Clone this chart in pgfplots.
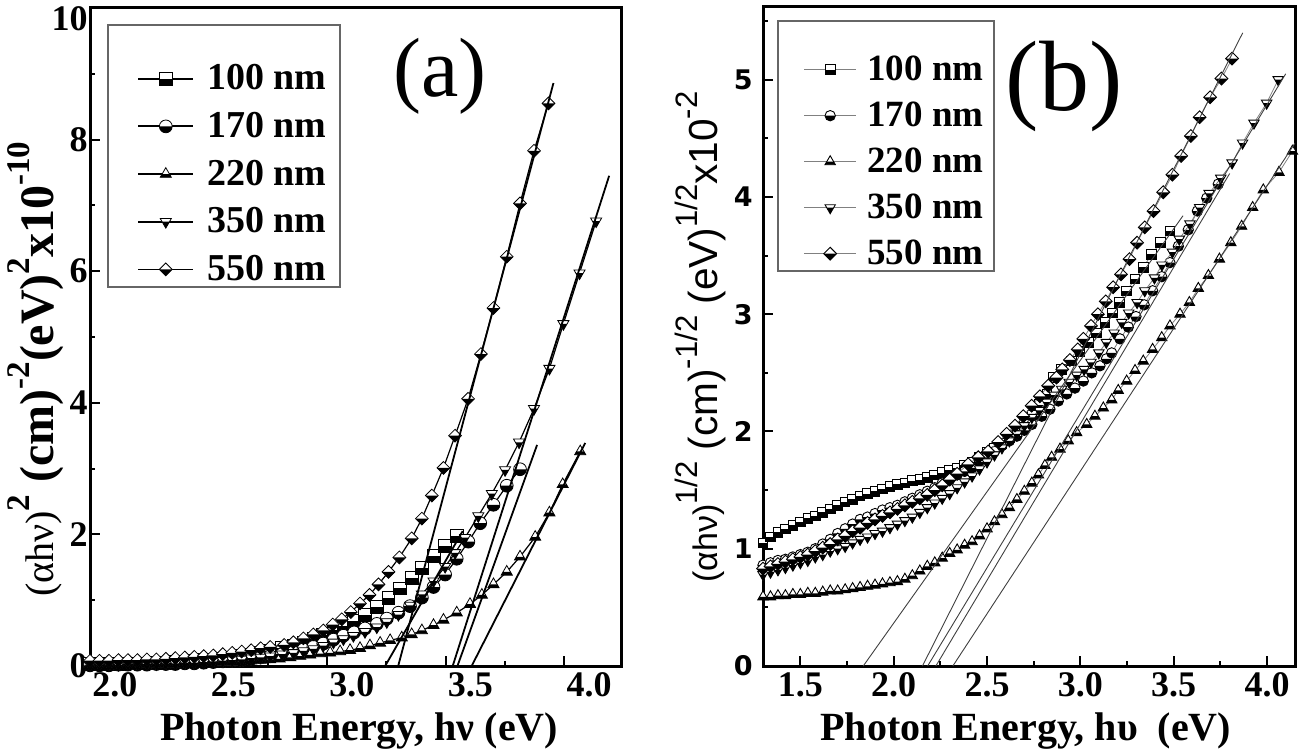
\documentclass[border=0pt]{standalone}
\usepackage{fontspec}
\setmainfont{Liberation Serif}
\newfontfamily\sansf{Liberation Sans}
\newfontfamily\dvsans{DejaVu Sans}
\usepackage{pgfplots}
\pgfplotsset{compat=1.18}

% half-filled marks: white upper half, black lower half
\pgfdeclareplotmark{hsq}{%
  \pgfscope
    \pgfsetfillcolor{white}%
    \pgfpathrectangle{\pgfqpoint{-\pgfplotmarksize}{-\pgfplotmarksize}}{\pgfqpoint{2\pgfplotmarksize}{2\pgfplotmarksize}}%
    \pgfusepath{fill}%
    \pgfsetfillcolor{black}%
    \pgfpathrectangle{\pgfqpoint{-\pgfplotmarksize}{-\pgfplotmarksize}}{\pgfqpoint{2\pgfplotmarksize}{\pgfplotmarksize}}%
    \pgfusepath{fill}%
  \endpgfscope
  \pgfpathrectangle{\pgfqpoint{-\pgfplotmarksize}{-\pgfplotmarksize}}{\pgfqpoint{2\pgfplotmarksize}{2\pgfplotmarksize}}%
  \pgfusepath{stroke}}
\pgfdeclareplotmark{hci}{%
  \pgfscope
    \pgfsetfillcolor{white}%
    \pgfpathcircle{\pgfpointorigin}{\pgfplotmarksize}%
    \pgfusepath{fill}%
    \pgfsetfillcolor{black}%
    \pgfpathmoveto{\pgfqpoint{\pgfplotmarksize}{0pt}}%
    \pgfpatharc{0}{-180}{\pgfplotmarksize}%
    \pgfpathclose
    \pgfusepath{fill}%
  \endpgfscope
  \pgfpathcircle{\pgfpointorigin}{\pgfplotmarksize}%
  \pgfusepath{stroke}}
\pgfdeclareplotmark{htu}{%
  \pgfscope
    \pgfsetfillcolor{white}%
    \pgfpathmoveto{\pgfqpoint{0pt}{\pgfplotmarksize}}%
    \pgfpathlineto{\pgfqpoint{-.866\pgfplotmarksize}{-.5\pgfplotmarksize}}%
    \pgfpathlineto{\pgfqpoint{.866\pgfplotmarksize}{-.5\pgfplotmarksize}}%
    \pgfpathclose\pgfusepath{fill}%
    \pgfsetfillcolor{black}%
    \pgfpathmoveto{\pgfqpoint{-.866\pgfplotmarksize}{-.5\pgfplotmarksize}}%
    \pgfpathlineto{\pgfqpoint{.866\pgfplotmarksize}{-.5\pgfplotmarksize}}%
    \pgfpathlineto{\pgfqpoint{.577\pgfplotmarksize}{0pt}}%
    \pgfpathlineto{\pgfqpoint{-.577\pgfplotmarksize}{0pt}}%
    \pgfpathclose\pgfusepath{fill}%
  \endpgfscope
  \pgfpathmoveto{\pgfqpoint{0pt}{\pgfplotmarksize}}%
  \pgfpathlineto{\pgfqpoint{-.866\pgfplotmarksize}{-.5\pgfplotmarksize}}%
  \pgfpathlineto{\pgfqpoint{.866\pgfplotmarksize}{-.5\pgfplotmarksize}}%
  \pgfpathclose\pgfusepath{stroke}}
\pgfdeclareplotmark{htd}{%
  \pgfscope
    \pgfsetfillcolor{white}%
    \pgfpathmoveto{\pgfqpoint{0pt}{-\pgfplotmarksize}}%
    \pgfpathlineto{\pgfqpoint{-.866\pgfplotmarksize}{.5\pgfplotmarksize}}%
    \pgfpathlineto{\pgfqpoint{.866\pgfplotmarksize}{.5\pgfplotmarksize}}%
    \pgfpathclose\pgfusepath{fill}%
    \pgfsetfillcolor{black}%
    \pgfpathmoveto{\pgfqpoint{0pt}{-\pgfplotmarksize}}%
    \pgfpathlineto{\pgfqpoint{.577\pgfplotmarksize}{0pt}}%
    \pgfpathlineto{\pgfqpoint{-.577\pgfplotmarksize}{0pt}}%
    \pgfpathclose\pgfusepath{fill}%
  \endpgfscope
  \pgfpathmoveto{\pgfqpoint{0pt}{-\pgfplotmarksize}}%
  \pgfpathlineto{\pgfqpoint{-.866\pgfplotmarksize}{.5\pgfplotmarksize}}%
  \pgfpathlineto{\pgfqpoint{.866\pgfplotmarksize}{.5\pgfplotmarksize}}%
  \pgfpathclose\pgfusepath{stroke}}
\pgfdeclareplotmark{hdi}{%
  \pgfscope
    \pgfsetfillcolor{white}%
    \pgfpathmoveto{\pgfqpoint{0pt}{\pgfplotmarksize}}%
    \pgfpathlineto{\pgfqpoint{\pgfplotmarksize}{0pt}}%
    \pgfpathlineto{\pgfqpoint{0pt}{-\pgfplotmarksize}}%
    \pgfpathlineto{\pgfqpoint{-\pgfplotmarksize}{0pt}}%
    \pgfpathclose\pgfusepath{fill}%
    \pgfsetfillcolor{black}%
    \pgfpathmoveto{\pgfqpoint{-\pgfplotmarksize}{0pt}}%
    \pgfpathlineto{\pgfqpoint{\pgfplotmarksize}{0pt}}%
    \pgfpathlineto{\pgfqpoint{0pt}{-\pgfplotmarksize}}%
    \pgfpathclose\pgfusepath{fill}%
  \endpgfscope
  \pgfpathmoveto{\pgfqpoint{0pt}{\pgfplotmarksize}}%
  \pgfpathlineto{\pgfqpoint{\pgfplotmarksize}{0pt}}%
  \pgfpathlineto{\pgfqpoint{0pt}{-\pgfplotmarksize}}%
  \pgfpathlineto{\pgfqpoint{-\pgfplotmarksize}{0pt}}%
  \pgfpathclose\pgfusepath{stroke}}

\newcommand\sups[2][14]{\raisebox{0.5em}{\fontsize{#1}{#1}\selectfont #2}}

\pgfplotsset{
  frame/.style={
    scale only axis, tick pos=left, tick align=inside,
    major tick length=5pt, minor tick length=2.5pt,
    tick style={black, line width=1pt},
    axis line style={line width=1.5pt},
    clip mode=individual},
  sA/.style={black, line width=0.6pt, mark size=3.2pt, mark options={solid, draw=black, line width=0.4pt}},
  fitA/.style={black, line width=0.9pt, forget plot, mark=none},
  sB/.style={gray, line width=0.4pt, mark size=3pt, mark options={solid, draw=black, line width=0.45pt}},
  fitB/.style={black!75, line width=0.45pt, forget plot, mark=none},
}

\begin{document}
\begin{tikzpicture}
\useasboundingbox (0,0) rectangle (649.5pt,377.5pt);

% ---------------- panel (a): (alpha h nu)^2 -----------------
\begin{axis}[frame,
  at={(45pt,44.5pt)}, anchor=south west, width=265.5pt, height=329pt,
  xmin=2.0, xmax=4.24, ymin=0, ymax=10,
  xtick={2.0,2.5,3.0,3.5,4.0}, xticklabels={2.0,2.5,3.0,3.5,4.0},
  minor xtick={2.25,2.75,3.25,3.75},
  ytick={0,2,4,6,8,10}, yticklabels={0,2,4,6,8,{\raisebox{-5pt}[0.68em][0pt]{10}}},
  minor ytick={1,3,5,7,9},
  xticklabel style={font=\fontsize{18}{18}\selectfont\bfseries, anchor=north west, inner sep=0pt, yshift=-3pt, xshift=1pt},
  yticklabel style={font=\fontsize{18}{18}\selectfont\bfseries, anchor=east, inner sep=0pt, xshift=-1pt},
  xlabel={Photon Energy, hν (eV)},
  xlabel style={at={(axis description cs:0.507,-0.099)}, anchor=center, font=\fontsize{20}{20}\selectfont\bfseries},
  ylabel={{\mdseries\fontsize{20}{20}\selectfont(αhν)}\sups[16.5]{2} (cm)\sups[16.5]{-2}(eV)\sups[16.5]{2}x10\sups[16.5]{-10}},
  ylabel style={at={(axis description cs:-0.103,0.451)}, anchor=center, font=\fontsize{24}{24}\selectfont\bfseries},
  legend style={draw=none, fill=none, at={(axis description cs:0.0885,0.9146)}, anchor=north west,
    inner sep=0pt, row sep=9.7pt, column sep=6.5pt, nodes={inner sep=0pt},
    cells={anchor=west}, font=\fontsize{19}{19}\selectfont\bfseries},
  legend image code/.code={\draw[#1, line width=0.9pt, mark repeat=2, mark phase=2] plot coordinates {(0pt,0pt) (13.75pt,0pt) (27.5pt,0pt)};},
]
\addplot[sA, mark=hsq] coordinates {
(2.00,0.03) (2.04,0.03) (2.08,0.03) (2.12,0.03) (2.16,0.04) (2.20,0.04) (2.24,0.04) (2.28,0.05)
(2.32,0.05) (2.36,0.06) (2.40,0.07) (2.44,0.08) (2.48,0.09) (2.52,0.10) (2.56,0.11) (2.60,0.13)
(2.64,0.15) (2.68,0.17) (2.72,0.20) (2.76,0.23) (2.81,0.27) (2.858,0.31) (2.900,0.36) (2.942,0.41)
(2.984,0.47) (3.027,0.54) (3.069,0.61) (3.114,0.69) (3.160,0.78) (3.210,0.90) (3.259,1.03)
(3.308,1.18) (3.357,1.34) (3.400,1.49) (3.451,1.67) (3.498,1.83) (3.547,1.98)};
\addlegendentry{100 nm}
\addplot[sA, mark=hci] coordinates {
(2.00,0.01) (2.04,0.01) (2.08,0.01) (2.12,0.02) (2.16,0.02) (2.20,0.02) (2.24,0.02) (2.28,0.03)
(2.32,0.03) (2.36,0.03) (2.40,0.04) (2.44,0.04) (2.48,0.05) (2.52,0.06) (2.56,0.07) (2.60,0.08)
(2.64,0.09) (2.68,0.11) (2.72,0.13) (2.76,0.15) (2.81,0.18) (2.858,0.21) (2.900,0.25) (2.942,0.29)
(2.984,0.34) (3.027,0.40) (3.069,0.46) (3.114,0.51) (3.160,0.57) (3.210,0.64) (3.252,0.72)
(3.301,0.81) (3.350,0.91) (3.400,1.04) (3.449,1.20) (3.498,1.39) (3.547,1.63) (3.596,1.89)
(3.646,2.17) (3.702,2.45) (3.758,2.74) (3.814,2.99)};
\addlegendentry{170 nm}
\addplot[sA, mark=htu] coordinates {
(2.00,0.02) (2.04,0.02) (2.08,0.02) (2.12,0.02) (2.16,0.02) (2.20,0.02) (2.24,0.03) (2.28,0.03)
(2.32,0.03) (2.36,0.03) (2.40,0.04) (2.44,0.04) (2.48,0.05) (2.52,0.05) (2.56,0.06) (2.60,0.06)
(2.64,0.07) (2.68,0.08) (2.72,0.09) (2.76,0.10) (2.80,0.11) (2.845,0.13) (2.887,0.15) (2.929,0.17)
(2.971,0.19) (3.013,0.20) (3.055,0.22) (3.097,0.24) (3.139,0.27) (3.181,0.31) (3.224,0.35)
(3.266,0.39) (3.315,0.43) (3.357,0.48) (3.400,0.54) (3.449,0.62) (3.491,0.70) (3.547,0.81)
(3.603,0.94) (3.653,1.08) (3.702,1.24) (3.758,1.43) (3.814,1.66) (3.878,1.96) (3.938,2.33)
(3.994,2.76) (4.068,3.26)};
\addlegendentry{220 nm}
\addplot[sA, mark=htd] coordinates {
(2.00,0.02) (2.04,0.02) (2.08,0.02) (2.12,0.02) (2.16,0.03) (2.20,0.03) (2.24,0.03) (2.28,0.03)
(2.32,0.04) (2.36,0.04) (2.40,0.05) (2.44,0.05) (2.48,0.06) (2.52,0.07) (2.56,0.08) (2.60,0.09)
(2.64,0.10) (2.68,0.12) (2.72,0.13) (2.76,0.15) (2.81,0.18) (2.858,0.20) (2.900,0.23) (2.942,0.26)
(2.984,0.31) (3.027,0.36) (3.069,0.41) (3.111,0.46) (3.160,0.52) (3.210,0.59) (3.252,0.67)
(3.301,0.78) (3.350,0.92) (3.400,1.09) (3.449,1.29) (3.498,1.51) (3.540,1.72) (3.582,1.95)
(3.638,2.28) (3.695,2.62) (3.751,2.98) (3.810,3.40) (3.873,3.91) (3.938,4.52) (3.997,5.20)
(4.065,5.97) (4.135,6.76)};
\addlegendentry{350 nm}
\addplot[sA, mark=hdi] coordinates {
(2.00,0.08) (2.04,0.08) (2.08,0.08) (2.12,0.09) (2.16,0.09) (2.20,0.09) (2.24,0.10) (2.28,0.10)
(2.32,0.11) (2.36,0.12) (2.40,0.13) (2.44,0.14) (2.48,0.15) (2.52,0.16) (2.56,0.18) (2.60,0.20)
(2.64,0.22) (2.68,0.24) (2.72,0.27) (2.76,0.29) (2.819,0.32) (2.858,0.36) (2.900,0.42) (2.942,0.48)
(2.984,0.54) (3.024,0.63) (3.062,0.71) (3.100,0.82) (3.139,0.95) (3.179,1.08) (3.217,1.24)
(3.259,1.43) (3.305,1.65) (3.357,1.94) (3.400,2.24) (3.442,2.59) (3.491,3.01) (3.540,3.50)
(3.595,4.06) (3.649,4.74) (3.702,5.44) (3.758,6.22) (3.814,7.03) (3.873,7.83) (3.934,8.55)};
\addlegendentry{550 nm}
% linear extrapolations to the energy axis
\addplot[fitA] coordinates {(3.245,0) (3.572,2.05)};
\addplot[fitA] coordinates {(3.55,0) (3.886,3.36)};
\addplot[fitA] coordinates {(3.61,0) (4.089,3.39)};
\addplot[fitA] coordinates {(3.53,0) (4.19,7.45)};
\addplot[fitA] coordinates {(3.30,0) (3.955,8.86)};
\draw[black!60, line width=0.6pt] (axis description cs:0.0339,0.9742) rectangle (axis description cs:0.4708,0.576);
\node[font=\fontsize{42}{42}\selectfont] at (axis description cs:0.659,0.896) {(a)};
\end{axis}

% ---------------- panel (b): (alpha h nu)^{1/2} -----------------
\begin{axis}[frame,
  at={(381.5pt,44.5pt)}, anchor=south west, width=266pt, height=329.5pt,
  xmin=1.3, xmax=4.15, ymin=0, ymax=5.62,
  xtick={1.5,2.0,2.5,3.0,3.5,4.0}, xticklabels={1.5,2.0,2.5,3.0,3.5,4.0},
  minor xtick={1.75,2.25,2.75,3.25,3.75},
  ytick={0,1,2,3,4,5}, yticklabels={0,1,2,3,4,5},
  minor ytick={0.5,1.5,2.5,3.5,4.5,5.5},
  xticklabel style={font=\fontsize{18}{18}\selectfont\bfseries, anchor=north, inner sep=0pt, yshift=-3pt},
  yticklabel style={font=\dvsans\bfseries\fontsize{13.5}{13.5}\selectfont, anchor=east, inner sep=0pt, xshift=-5pt},
  xlabel={Photon Energy, hυ\ \ (eV)},
  xlabel style={at={(axis description cs:0.494,-0.099)}, anchor=center, font=\fontsize{20}{20}\selectfont\bfseries},
  ylabel={{\fontsize{17}{17}\selectfont(αhν)}\sups[15.5]{1/2} (cm)\sups[15.5]{-1/2} (eV)\sups[15.5]{1/2}x10\sups[15.5]{-2}},
  ylabel style={at={(axis description cs:-0.118,0.499)}, anchor=center, font=\sansf\fontsize{20.3}{20.3}\selectfont},
  legend style={draw=none, fill=none, at={(axis description cs:0.0761,0.9264)}, anchor=north west,
    inner sep=0pt, row sep=9.2pt, column sep=5.5pt, nodes={inner sep=0pt},
    cells={anchor=west}, font=\fontsize{18.5}{18.5}\selectfont\bfseries},
  legend image code/.code={\draw[#1, line width=0.5pt, mark repeat=2, mark phase=2] plot coordinates {(0pt,0pt) (12.9pt,0pt) (25.75pt,0pt)};},
]
\addplot[sB, mark=hsq, mark size=2.4pt] coordinates {
(1.30,1.05) (1.34,1.10) (1.38,1.14) (1.42,1.17) (1.46,1.20) (1.50,1.23) (1.54,1.26) (1.58,1.28)
(1.62,1.31) (1.66,1.34) (1.70,1.37) (1.74,1.40) (1.78,1.42) (1.82,1.45) (1.86,1.47) (1.90,1.49)
(1.94,1.51) (1.98,1.53) (2.02,1.55) (2.06,1.56) (2.10,1.58) (2.14,1.59) (2.18,1.61) (2.22,1.63)
(2.26,1.65) (2.30,1.67) (2.34,1.69) (2.38,1.71) (2.42,1.74) (2.46,1.78) (2.50,1.82) (2.54,1.86)
(2.58,1.90) (2.62,1.95) (2.66,2.01) (2.70,2.07) (2.74,2.14) (2.78,2.23) (2.82,2.32) (2.855,2.46)
(2.900,2.53) (2.953,2.60) (2.998,2.68) (3.042,2.76) (3.087,2.84) (3.132,2.93) (3.173,3.01)
(3.208,3.10) (3.248,3.20) (3.293,3.30) (3.337,3.40) (3.382,3.51) (3.430,3.61) (3.480,3.71)};
\addlegendentry{100 nm}
\addplot[sB, mark=hci, mark size=2.6pt] coordinates {
(1.30,0.86) (1.34,0.88) (1.38,0.90) (1.42,0.91) (1.46,0.93) (1.50,0.95) (1.54,0.97) (1.58,1.00)
(1.62,1.04) (1.66,1.08) (1.70,1.13) (1.74,1.17) (1.78,1.21) (1.82,1.25) (1.86,1.27) (1.90,1.30)
(1.94,1.33) (1.98,1.35) (2.02,1.37) (2.06,1.40) (2.10,1.43) (2.14,1.46) (2.18,1.49) (2.22,1.52)
(2.26,1.56) (2.30,1.59) (2.34,1.63) (2.38,1.66) (2.42,1.69) (2.46,1.74) (2.50,1.78) (2.54,1.83)
(2.58,1.88) (2.62,1.92) (2.66,1.96) (2.70,2.01) (2.74,2.06) (2.793,2.13) (2.837,2.19) (2.882,2.26)
(2.927,2.32) (2.971,2.37) (3.016,2.43) (3.061,2.50) (3.105,2.56) (3.140,2.62) (3.168,2.67)
(3.212,2.79) (3.257,2.89) (3.298,2.98) (3.342,3.08) (3.387,3.20) (3.436,3.32) (3.480,3.44)
(3.525,3.58) (3.578,3.72) (3.627,3.88) (3.677,3.99) (3.739,4.11)};
\addlegendentry{170 nm}
\addplot[sB, mark=htu] coordinates {
(1.30,0.59) (1.34,0.59) (1.38,0.60) (1.42,0.60) (1.46,0.61) (1.50,0.61) (1.54,0.62) (1.58,0.62)
(1.62,0.63) (1.66,0.64) (1.70,0.64) (1.74,0.65) (1.78,0.66) (1.82,0.67) (1.86,0.68) (1.90,0.69)
(1.94,0.70) (1.98,0.71) (2.02,0.72) (2.06,0.74) (2.10,0.77) (2.14,0.81) (2.18,0.85) (2.22,0.88)
(2.26,0.92) (2.30,0.96) (2.34,0.99) (2.38,1.03) (2.42,1.06) (2.46,1.11) (2.50,1.17) (2.54,1.23)
(2.58,1.29) (2.62,1.35) (2.66,1.42) (2.70,1.49) (2.74,1.56) (2.775,1.63) (2.810,1.71) (2.846,1.78)
(2.891,1.85) (2.935,1.92) (2.980,1.99) (3.034,2.06) (3.078,2.13) (3.123,2.20) (3.168,2.27)
(3.203,2.35) (3.248,2.43) (3.293,2.52) (3.337,2.60) (3.387,2.70) (3.436,2.80) (3.480,2.90)
(3.534,3.00) (3.584,3.10) (3.632,3.22) (3.686,3.33) (3.745,3.47) (3.806,3.61) (3.864,3.75)
(3.923,3.91) (3.980,4.06) (4.064,4.21) (4.136,4.39)};
\addlegendentry{220 nm}
\addplot[sB, mark=htd] coordinates {
(1.30,0.78) (1.34,0.80) (1.38,0.82) (1.42,0.84) (1.46,0.86) (1.50,0.88) (1.54,0.90) (1.58,0.93)
(1.62,0.95) (1.66,0.98) (1.70,1.00) (1.74,1.02) (1.78,1.05) (1.82,1.08) (1.86,1.10) (1.90,1.13)
(1.94,1.15) (1.98,1.18) (2.02,1.21) (2.06,1.24) (2.10,1.27) (2.14,1.31) (2.18,1.35) (2.22,1.39)
(2.26,1.43) (2.30,1.47) (2.34,1.52) (2.38,1.57) (2.42,1.62) (2.46,1.68) (2.50,1.74) (2.54,1.80)
(2.58,1.86) (2.62,1.92) (2.66,1.98) (2.70,2.05) (2.74,2.12) (2.78,2.18) (2.82,2.25) (2.86,2.31)
(2.90,2.36) (2.94,2.42) (2.98,2.48) (3.02,2.53) (3.057,2.59) (3.099,2.67) (3.139,2.76)
(3.181,2.84) (3.222,2.93) (3.259,3.01) (3.304,3.10) (3.345,3.20) (3.397,3.31) (3.437,3.42)
(3.493,3.53) (3.530,3.64) (3.587,3.77) (3.639,3.91) (3.690,4.03) (3.752,4.16) (3.813,4.29)
(3.869,4.46) (3.930,4.63) (3.998,4.80) (4.060,5.00)};
\addlegendentry{350 nm}
\addplot[sB, mark=hdi, mark size=3.2pt] coordinates {
(1.30,0.83) (1.34,0.85) (1.38,0.87) (1.42,0.89) (1.46,0.91) (1.50,0.93) (1.54,0.95) (1.58,0.98)
(1.62,1.01) (1.66,1.04) (1.70,1.08) (1.74,1.11) (1.78,1.15) (1.82,1.18) (1.86,1.22) (1.90,1.25)
(1.94,1.28) (1.98,1.31) (2.02,1.34) (2.06,1.37) (2.10,1.40) (2.14,1.43) (2.18,1.46) (2.22,1.50)
(2.26,1.54) (2.30,1.59) (2.34,1.64) (2.399,1.72) (2.453,1.78) (2.506,1.83) (2.560,1.91)
(2.605,1.98) (2.650,2.05) (2.694,2.13) (2.739,2.22) (2.783,2.30) (2.828,2.39) (2.872,2.46)
(2.903,2.53) (2.944,2.61) (2.986,2.70) (3.016,2.79) (3.057,2.90) (3.094,3.00) (3.136,3.11)
(3.176,3.23) (3.218,3.34) (3.263,3.47) (3.304,3.61) (3.345,3.74) (3.392,3.88) (3.444,4.04)
(3.493,4.19) (3.540,4.35) (3.592,4.52) (3.639,4.68) (3.695,4.85) (3.756,5.01) (3.813,5.18)};
\addlegendentry{550 nm}
% linear extrapolations to the energy axis
\addplot[fitB] coordinates {(1.837,0) (3.55,3.84)};
\addplot[fitB] coordinates {(2.226,0) (3.80,4.20)};
\addplot[fitB] coordinates {(2.317,0) (4.15,4.46)};
\addplot[fitB] coordinates {(2.182,0) (4.10,5.05)};
\addplot[fitB] coordinates {(2.154,0) (3.87,5.40)};
\draw[black!60, line width=0.6pt] (axis description cs:0.0282,0.9788) rectangle (axis description cs:0.434,0.5994);
\node[font=\fontsize{50}{50}\selectfont] at (axis description cs:0.566,0.88) {(b)};
\end{axis}
\end{tikzpicture}
\end{document}
